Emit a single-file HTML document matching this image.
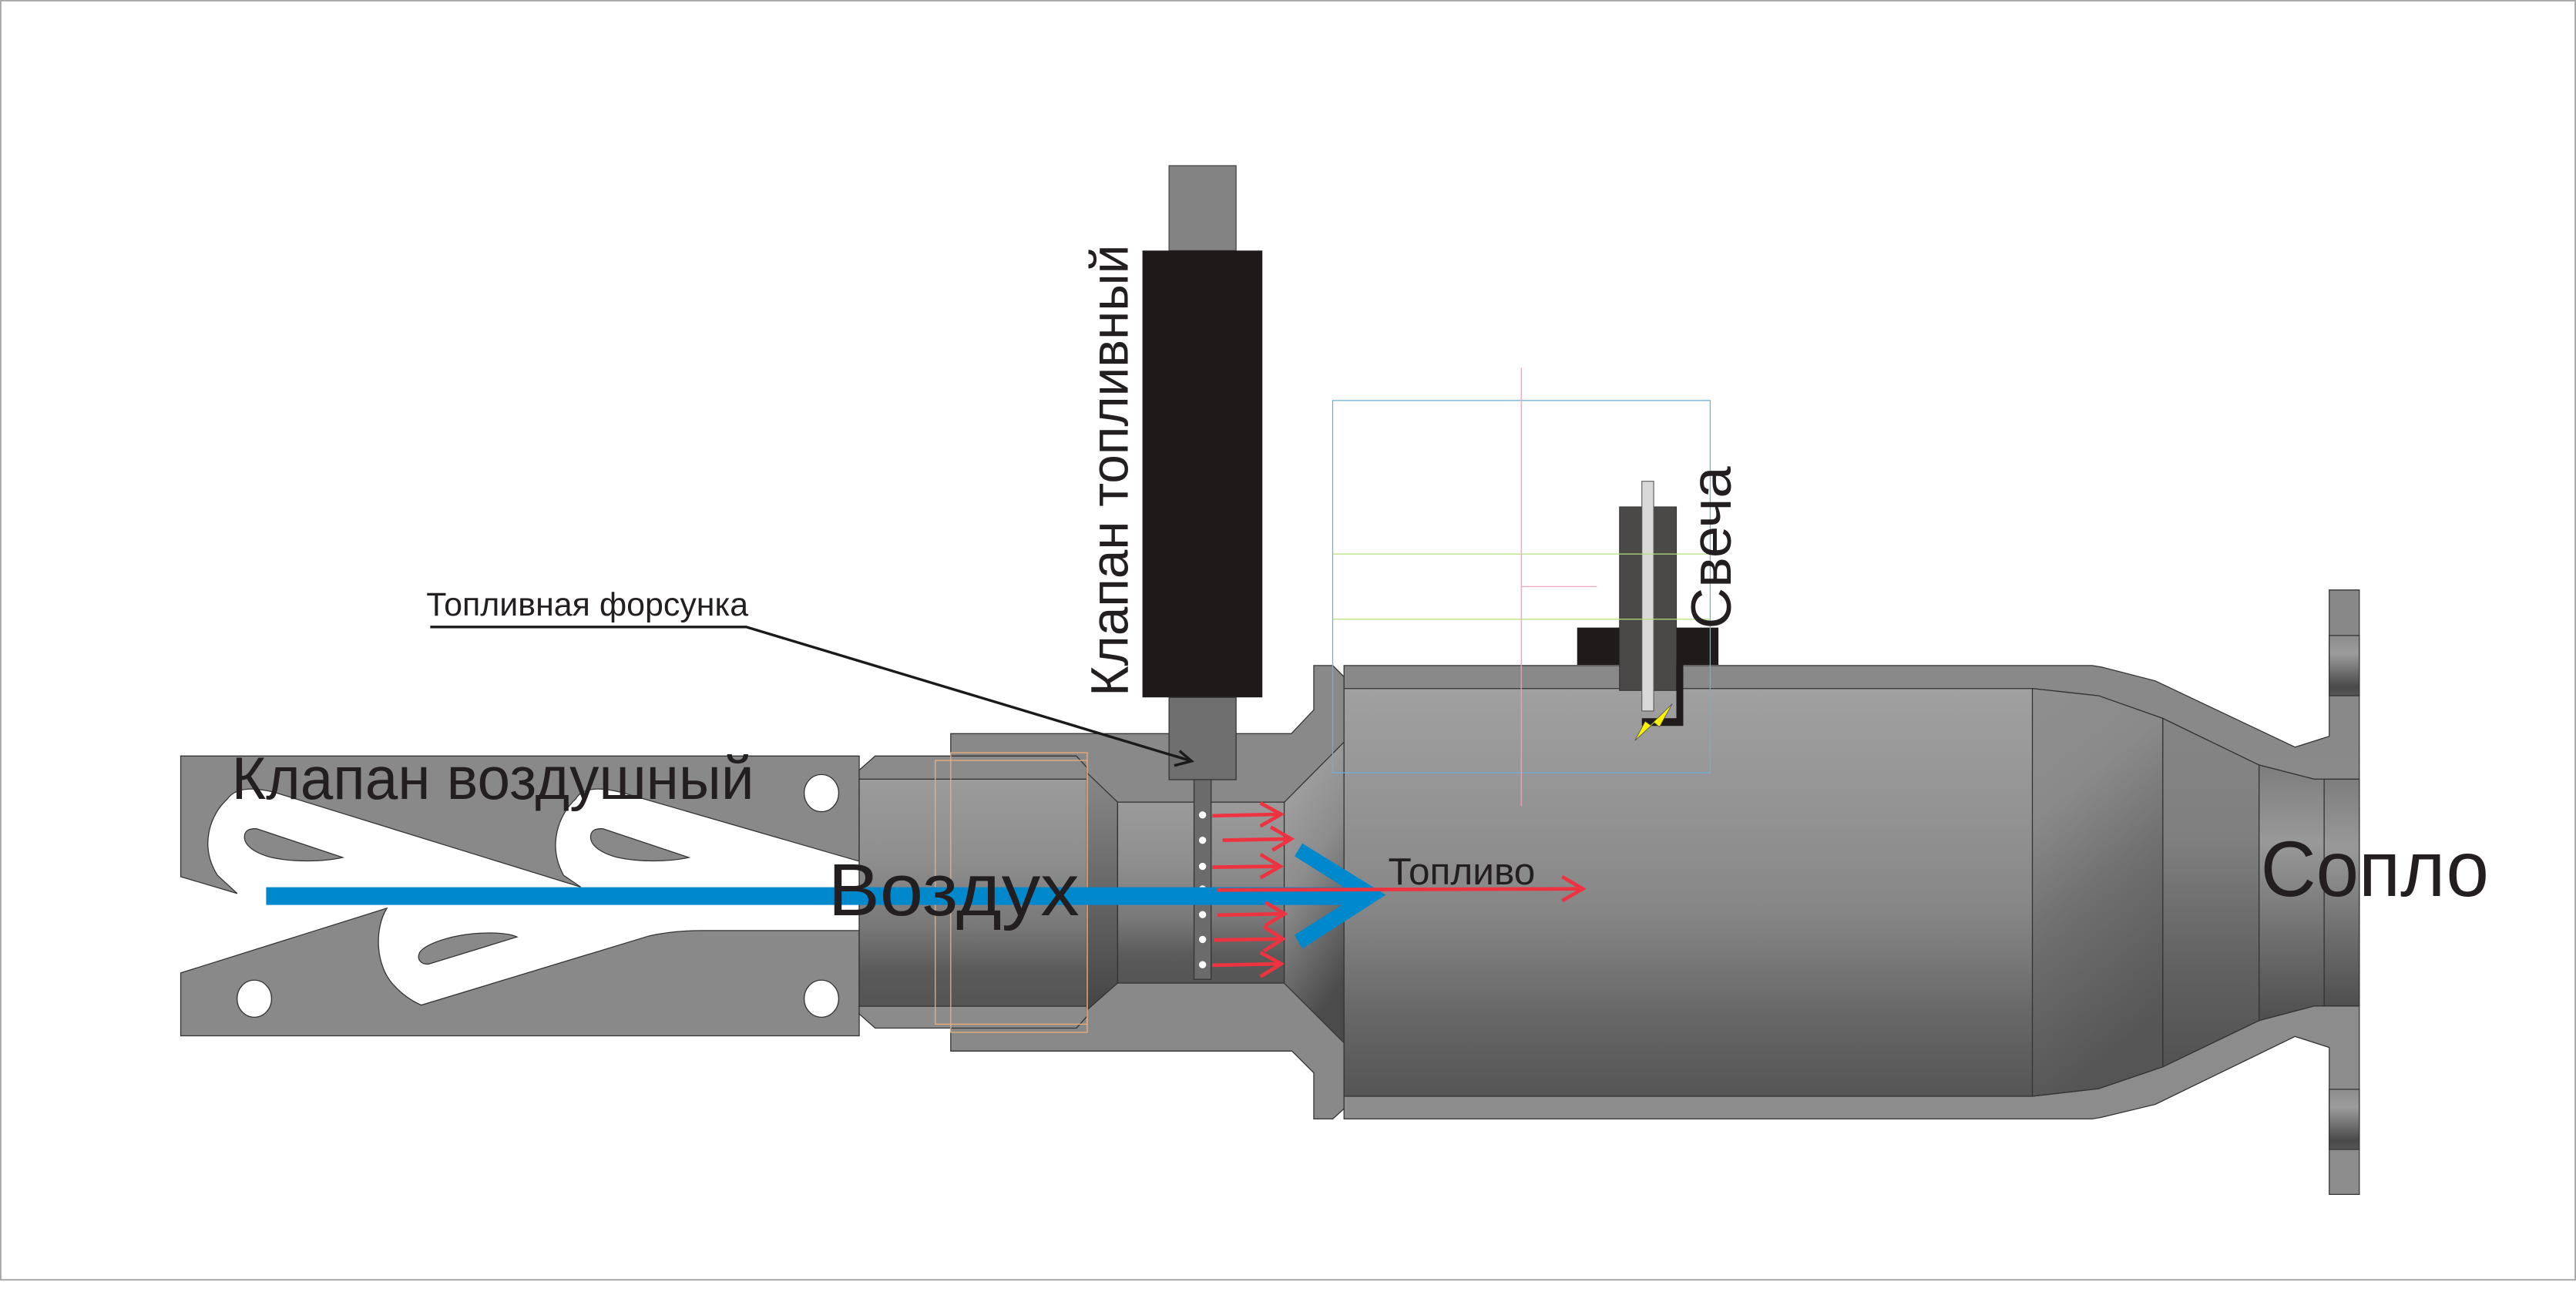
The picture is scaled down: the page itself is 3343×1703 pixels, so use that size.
<!DOCTYPE html>
<html>
<head>
<meta charset="utf-8">
<style>
  html,body{margin:0;padding:0;background:#fff;overflow:hidden;}
  svg{display:block;}
  text{font-family:"Liberation Sans","DejaVu Sans",sans-serif;fill:#231f20;}
</style>
</head>
<body>
<svg xmlns="http://www.w3.org/2000/svg" width="3343" height="1703" viewBox="0 0 1568 799" preserveAspectRatio="none">
<defs>
  <linearGradient id="gBody" x1="0" y1="0" x2="0" y2="1">
    <stop offset="0" stop-color="#a0a0a0"/>
    <stop offset="0.3" stop-color="#939393"/>
    <stop offset="0.55" stop-color="#868686"/>
    <stop offset="0.8" stop-color="#676767"/>
    <stop offset="1" stop-color="#555555"/>
  </linearGradient>
  <linearGradient id="gNut" x1="0" y1="0" x2="0" y2="1">
    <stop offset="0" stop-color="#9b9b9b"/>
    <stop offset="0.35" stop-color="#8e8e8e"/>
    <stop offset="0.65" stop-color="#787878"/>
    <stop offset="0.85" stop-color="#5a5a5a"/>
    <stop offset="1" stop-color="#555555"/>
  </linearGradient>
  <linearGradient id="gFace" x1="0" y1="0" x2="0" y2="1">
    <stop offset="0" stop-color="#888888"/>
    <stop offset="1" stop-color="#454545"/>
  </linearGradient>
  <linearGradient id="gCone" x1="0" y1="0" x2="0.3" y2="1">
    <stop offset="0" stop-color="#aaaaaa"/>
    <stop offset="0.5" stop-color="#8c8c8c"/>
    <stop offset="1" stop-color="#4b4b4b"/>
  </linearGradient>
  <linearGradient id="gSecA" x1="0" y1="0" x2="0.25" y2="1">
    <stop offset="0" stop-color="#8f8f8f"/>
    <stop offset="0.3" stop-color="#8a8a8a"/>
    <stop offset="0.6" stop-color="#6e6e6e"/>
    <stop offset="1" stop-color="#555555"/>
  </linearGradient>
  <linearGradient id="gSecB" x1="0" y1="0" x2="0" y2="1">
    <stop offset="0" stop-color="#858585"/>
    <stop offset="0.35" stop-color="#7f7f7f"/>
    <stop offset="0.7" stop-color="#626262"/>
    <stop offset="1" stop-color="#525252"/>
  </linearGradient>
  <linearGradient id="gSecC" x1="0" y1="0" x2="0" y2="1">
    <stop offset="0" stop-color="#7d7d7d"/>
    <stop offset="0.3" stop-color="#999999"/>
    <stop offset="0.7" stop-color="#6c6c6c"/>
    <stop offset="1" stop-color="#4f4f4f"/>
  </linearGradient>
  <linearGradient id="gBand" x1="0" y1="0" x2="0" y2="1">
    <stop offset="0" stop-color="#8c8c8c"/>
    <stop offset="0.3" stop-color="#9c9c9c"/>
    <stop offset="0.85" stop-color="#4a4a4a"/>
    <stop offset="1" stop-color="#555555"/>
  </linearGradient>
  <linearGradient id="gShell" x1="0" y1="0" x2="0" y2="1">
    <stop offset="0" stop-color="#888888"/>
    <stop offset="1" stop-color="#8d8d8d"/>
  </linearGradient>
</defs>

<rect x="0" y="0" width="1568" height="799" fill="#ffffff"/>
<rect x="0.4" y="0.4" width="1567.2" height="779" fill="none" stroke="#a5a5a5" stroke-width="0.9"/>

<!-- Air valve -->
<path d="M110,460.4 H523 V524.5 L378,482.5 Q356,477 350.5,486.5 C340,496 333,515 343.1,533.1 L353.5,540.2 L167,482.5 Q145,477 138.4,486.6 C128,496 121,515 132.4,533.1 L144.4,544.1 L110,533.9 Z" fill="#898989" stroke="#333" stroke-width="0.6"/>
<path d="M110,592.5 L235.5,553.1 C228,565 228,588 240,600.3 Q247,608 256.4,612.1 L395.4,569.9 Q410,566.7 428.2,566.7 H523 V630.8 H110 Z" fill="#898989" stroke="#333" stroke-width="0.6"/>
<path d="M156.3,504.7 L208.6,522.2 C196,525 178,525 165.3,522.2 C155,519.5 149,515 148.8,510 C148.8,506 151,504.5 156.3,504.7 Z" fill="#898989" stroke="#333" stroke-width="0.6"/>
<path transform="translate(210.7,0)" d="M156.3,504.7 L208.6,522.2 C196,525 178,525 165.3,522.2 C155,519.5 149,515 148.8,510 C148.8,506 151,504.5 156.3,504.7 Z" fill="#898989" stroke="#333" stroke-width="0.6"/>
<path d="M260.9,587.1 L314.7,570.6 C308,567.5 292,567.5 278.8,569.9 C268,572 258,576 255.5,580 C253.5,584 256,587.5 260.9,587.1 Z" fill="#898989" stroke="#333" stroke-width="0.6"/>
<ellipse cx="500" cy="483" rx="10.5" ry="11.3" fill="#fff" stroke="#333" stroke-width="0.6"/>
<ellipse cx="154.8" cy="608.2" rx="10.5" ry="11.3" fill="#fff" stroke="#333" stroke-width="0.6"/>
<ellipse cx="500" cy="608.2" rx="10.5" ry="11.3" fill="#fff" stroke="#333" stroke-width="0.6"/>

<!-- Injector housing -->
<path d="M578.7,446.8 H786 L799.7,432.3 V405.3 H811.3 L818.1,412.2 V675.2 L811.3,681.4 H799.7 V653.4 L786.4,640.1 H578.7 Z" fill="#898989" stroke="#333" stroke-width="0.6"/>

<!-- Nut -->
<path d="M523,469 L532.7,460.4 H655.2 L661.6,467.4 V619 L655.2,626.1 H532.7 L523,617.5 Z" fill="#8b8b8b" stroke="#333" stroke-width="0.6"/>
<rect x="523" y="474.5" width="138.6" height="138.3" fill="url(#gNut)" stroke="#333" stroke-width="0.6"/>
<polygon points="661.6,470.6 680.3,488.5 680.3,598.7 661.6,615.1" fill="url(#gFace)" stroke="#333" stroke-width="0.6"/>
<rect x="680.3" y="488.5" width="101.4" height="110.2" fill="url(#gNut)" stroke="#333" stroke-width="0.6"/>
<polygon points="781.7,488.6 818.1,451.9 818.1,635.1 781.7,598.8" fill="url(#gCone)" stroke="#333" stroke-width="0.6"/>
<rect x="569.3" y="463.1" width="92.5" height="160.6" fill="none" stroke="#f0ae78" stroke-width="0.6"/>
<rect x="578.7" y="458.4" width="83.1" height="170.3" fill="none" stroke="#f0ae78" stroke-width="0.6"/>

<!-- Fuel valve -->
<rect x="711.6" y="100.9" width="40.8" height="51.7" fill="#838383" stroke="#444" stroke-width="0.6"/>
<rect x="695.4" y="152.6" width="73" height="272.1" fill="#1e1a19"/>
<rect x="711.6" y="424.7" width="40.8" height="50.1" fill="#6f6f6f" stroke="#333" stroke-width="0.6"/>
<rect x="726.8" y="474.8" width="10.4" height="121.6" fill="#6b6b6b" stroke="#333" stroke-width="0.6"/>
<g fill="#fff">
  <circle cx="732" cy="496.3" r="2.2"/>
  <circle cx="732" cy="511.7" r="2.2"/>
  <circle cx="732" cy="527.6" r="2.2"/>
  <circle cx="732" cy="541.4" r="2.2"/>
  <circle cx="732" cy="557" r="2.2"/>
  <circle cx="732" cy="572.1" r="2.2"/>
  <circle cx="732" cy="587.5" r="2.2"/>
</g>

<!-- Combustion chamber + nozzle -->
<path d="M818.1,405.3 H1273.5 L1279,406.2 L1311.8,414.6 L1397,455 L1417.8,448.4 V359.3 H1436.1 V727.4 H1417.8 V637.9 L1397,631.2 L1311.8,672.6 L1279,680.5 L1273.5,681.4 H818.1 Z" fill="url(#gShell)" stroke="#333" stroke-width="0.6"/>
<path d="M818.1,419.3 H1237.1 L1277.4,423.7 L1316.5,437.5 L1375.1,465.9 L1408.7,474.5 H1436.1 V612.6 H1408.7 L1375.1,621.5 L1316.5,649.7 L1277.4,663 L1237.1,667.6 H818.1 Z" fill="url(#gBody)" stroke="#333" stroke-width="0.6"/>
<polygon points="1237.1,419.3 1277.4,423.7 1316.5,437.5 1316.5,649.7 1277.4,663 1237.1,667.6" fill="url(#gSecA)" stroke="#333" stroke-width="0.6"/>
<polygon points="1316.5,437.5 1375.1,465.9 1375.1,621.5 1316.5,649.7" fill="url(#gSecB)" stroke="#333" stroke-width="0.6"/>
<polygon points="1375.1,465.9 1408.7,474.5 1414.7,474.5 1414.7,612.6 1408.7,612.6 1375.1,621.5" fill="url(#gSecC)" stroke="#333" stroke-width="0.6"/>
<rect x="1414.7" y="474.5" width="21.4" height="138.1" fill="url(#gSecC)" stroke="#333" stroke-width="0.6"/>
<rect x="1417.8" y="387" width="18.3" height="36.7" fill="url(#gBand)" stroke="#333" stroke-width="0.6"/>
<rect x="1417.8" y="663.4" width="18.3" height="36.6" fill="url(#gBand)" stroke="#333" stroke-width="0.6"/>

<!-- Spark plug -->
<rect x="960" y="382.2" width="86" height="22.7" fill="#1e1b1a"/>
<rect x="985.8" y="308.7" width="34.6" height="111.8" fill="#4b4848" stroke="#333" stroke-width="0.5"/>
<rect x="999.4" y="293.1" width="7.2" height="139.9" fill="#d9d9d9" stroke="#555" stroke-width="0.5"/>
<path d="M1020.4,404.9 H1024.6 V442.1 H999.4 V437.4 H1020.4 Z" fill="#1e1b1a"/>
<polygon points="1017.9,428.6 1010.1,442.7 1007,440.1 995.2,451 1001.4,439.3 1004.6,441.6" fill="#fff200" stroke="#555" stroke-width="0.4"/>

<!-- Construction guide lines -->
<rect x="811.2" y="243.9" width="229.8" height="226.7" fill="none" stroke="#6ab0dc" stroke-width="0.6"/>
<line x1="811.2" y1="337.4" x2="1041" y2="337.4" stroke="#b2df7e" stroke-width="0.6"/>
<line x1="811.2" y1="377.1" x2="1041" y2="377.1" stroke="#b2df7e" stroke-width="0.6"/>
<line x1="926" y1="224" x2="926" y2="491" stroke="#eaa5b8" stroke-width="0.6"/>
<line x1="926" y1="357.2" x2="972" y2="357.2" stroke="#eaa5b8" stroke-width="0.6"/>

<!-- Air flow -->
<rect x="162" y="540.3" width="668" height="10.8" fill="#0088cc"/>
<polygon points="792.7,513.6 843.5,545 792.7,577.7 788,569.4 826,545.3 788,521.4" fill="#0088cc"/>

<!-- Fuel arrows -->
<g stroke="#ee3340" stroke-width="2.2" fill="none">
  <line x1="737.9" y1="496.8" x2="779.5" y2="495.9"/>
  <polyline points="767.2,489 779.8,495.9 767.2,503.1"/>
  <line x1="744.2" y1="511.7" x2="785.5" y2="510.9"/>
  <polyline points="773.5,503.7 786,510.9 774.5,517.8"/>
  <line x1="737.9" y1="528.1" x2="779" y2="527.6"/>
  <polyline points="767.2,520.3 779.3,527.6 767.2,534.6"/>
  <line x1="741" y1="542" x2="963" y2="541.3"/>
  <polyline points="950.9,533.9 963.4,541.3 950.9,548.5"/>
  <line x1="741" y1="557.3" x2="781.5" y2="556.5"/>
  <polyline points="770.3,549.5 781.8,556.5 770.3,563.6"/>
  <line x1="738.9" y1="572.5" x2="780.5" y2="571.8"/>
  <polyline points="769.3,564.3 780.8,571.8 769.3,579.2"/>
  <line x1="737.9" y1="587.8" x2="779.5" y2="587"/>
  <polyline points="767.2,580 779.8,587 767.2,594.8"/>
</g>

<!-- Leader for injector label -->
<polyline points="261.9,381.8 454.2,381.8 725.3,463.5" fill="none" stroke="#1a1a1a" stroke-width="1.6"/>
<polyline points="718,457.3 725.3,463.5 714.8,466.2" fill="none" stroke="#1a1a1a" stroke-width="1.6"/>

<!-- Labels -->
<text x="141" y="486.5" font-size="36.4" textLength="318" lengthAdjust="spacingAndGlyphs">Клапан воздушный</text>
<text x="504" y="557.3" font-size="45" textLength="153" lengthAdjust="spacingAndGlyphs">Воздух</text>
<text x="845" y="538.6" font-size="23" textLength="89.5" lengthAdjust="spacingAndGlyphs">Топливо</text>
<text x="1376" y="545.7" font-size="48" textLength="139" lengthAdjust="spacingAndGlyphs">Сопло</text>
<text x="259.5" y="374.9" font-size="20" textLength="196" lengthAdjust="spacingAndGlyphs">Топливная форсунка</text>
<text transform="translate(686.4,424) rotate(-90)" x="0" y="0" font-size="32" textLength="275" lengthAdjust="spacingAndGlyphs">Клапан топливный</text>
<text transform="translate(1053.5,383) rotate(-90)" x="0" y="0" font-size="34.5" textLength="99" lengthAdjust="spacingAndGlyphs">Свеча</text>
</svg>
</body>
</html>
